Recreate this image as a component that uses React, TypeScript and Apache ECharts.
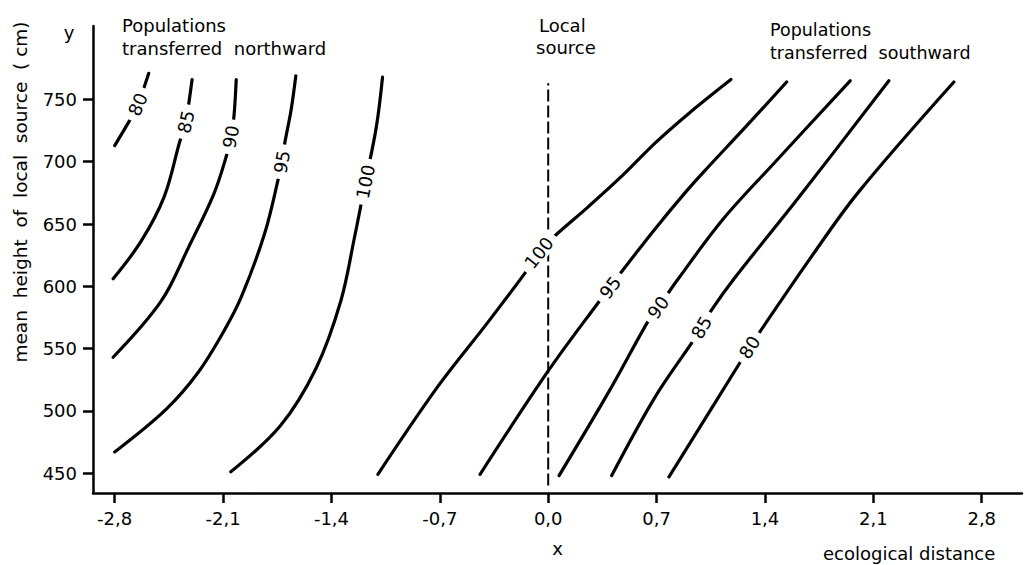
import React, { useEffect, useRef } from "react";
import * as echarts from "echarts";

// Axis ticks
const xTicks = [-2.8, -2.1, -1.4, -0.7, 0, 0.7, 1.4, 2.1, 2.8];
const yTicks = [450, 500, 550, 600, 650, 700, 750];

// Contour levels
const levelsNorth = [80, 85, 90, 95, 100];
const levelsSouth = [100, 95, 90, 85, 80];

// Populations transferred northward (x, y)
const north80 = [[-2.8, 713], [-2.69, 736], [-2.62, 756], [-2.58, 771]];
const north85 = [[-2.81, 606], [-2.63, 636], [-2.48, 672], [-2.38, 716], [-2.32, 748], [-2.3, 766]];
const north90 = [[-2.81, 543], [-2.5, 588], [-2.32, 632], [-2.16, 674], [-2.08, 704], [-2.03, 736], [-2.015, 766]];
const north95 = [[-2.8, 467], [-2.47, 501], [-2.26, 531], [-2.09, 565], [-1.98, 592], [-1.83, 643], [-1.74, 688], [-1.7, 716], [-1.66, 742], [-1.63, 769]];
const north100 = [[-2.05, 451], [-1.73, 488], [-1.5, 534], [-1.34, 588], [-1.25, 640], [-1.11, 728], [-1.07, 768]];
const northLabels = [[-2.65, 746], [-2.34, 732], [-2.05, 720], [-1.72, 700], [-1.18, 684]];

// Populations transferred southward (x, y)
const south100 = [[-1.1, 449], [-0.71, 520], [-0.39, 571], [-0.13, 614], [0.03, 639], [0.26, 664], [0.48, 689], [0.69, 715], [0.91, 739], [1.18, 766]];
const south95 = [[-0.44, 449], [0.0, 532], [0.33, 588], [0.47, 611], [0.69, 646], [0.89, 676], [1.02, 694], [1.26, 726], [1.54, 764]];
const south90 = [[0.07, 448], [0.39, 515], [0.65, 573], [0.84, 606], [1.13, 654], [1.46, 699], [1.95, 765]];
const south85 = [[0.41, 448], [0.69, 511], [0.94, 557], [1.05, 580], [1.2, 606], [1.61, 670], [2.2, 765]];
const south80 = [[0.78, 447], [1.24, 539], [1.37, 564], [1.69, 622], [2.0, 675], [2.62, 764]];
const southLabels = [[-0.06, 627], [0.4, 599], [0.71, 583], [0.99, 567], [1.3, 551]];

// Local source (x = 0)
const localSource = [[0, 440], [0, 763]];

const FONT = "'DejaVu Sans', sans-serif";

function fmt(v: number) {
  const s = Math.abs(v).toFixed(1).replace(".", ",");
  return v < -1e-9 ? "-" + s : s;
}

export default function App() {
  const ref = useRef<HTMLDivElement>(null);

  useEffect(() => {
    if (!ref.current) return;
    const chart = echarts.init(ref.current, null, { renderer: "svg" });

    const curves = [north80, north85, north90, north95, north100, south100, south95, south90, south85, south80];
    const labels = [...northLabels, ...southLabels];
    const levels = [...levelsNorth, ...levelsSouth];

    const merged = curves.map((pts, i) => [...pts, labels[i]].sort((a, b) => a[1] - b[1]));

    // label rows: [x, y, xPrev, yPrev, xNext, yNext, level]
    const labelRows = labels.map((lab, i) => {
      const d = merged[i];
      const k = d.indexOf(lab);
      const a = d[Math.max(0, k - 1)];
      const b = d[Math.min(d.length - 1, k + 1)];
      return [lab[0], lab[1], a[0], a[1], b[0], b[1], levels[i]];
    });

    const lineSeries: any[] = merged.map((data, i) => ({
      type: "line",
      name: "iso " + levels[i] + " #" + i,
      data,
      showSymbol: false,
      symbol: "none",
      smooth: 0.35,
      lineStyle: { color: "#000", width: 3.2, cap: "round" },
      z: 2,
      silent: true,
    }));

    const option: any = {
      animation: false,
      backgroundColor: "#fff",
      grid: { left: 93, right: 3, top: 26, bottom: 72, containLabel: false, outerBoundsMode: "none" },
      xAxis: {
        type: "value",
        min: -2.94,
        max: 3.06,
        name: "x",
        nameLocation: "middle",
        nameGap: 46,
        nameTextStyle: { color: "#000", fontSize: 18, fontFamily: FONT },
        axisLine: { onZero: false, lineStyle: { color: "#000", width: 2.5 } },
        axisTick: { show: true, customValues: xTicks, length: 10, lineStyle: { color: "#000", width: 2.5 } },
        axisLabel: { customValues: xTicks, formatter: (v: number) => fmt(v), color: "#000", fontSize: 18, fontFamily: FONT, margin: 16 },
        splitLine: { show: false },
      },
      yAxis: {
        type: "value",
        min: 434,
        max: 809,
        axisLine: { onZero: false, lineStyle: { color: "#000", width: 2.5 } },
        axisTick: { show: true, customValues: yTicks, length: 10, lineStyle: { color: "#000", width: 2.5 } },
        axisLabel: { customValues: yTicks, color: "#000", fontSize: 18, fontFamily: FONT, margin: 16 },
        splitLine: { show: false },
      },
      graphic: [
        { type: "text", x: 69, y: 32, style: { text: "y", fill: "#000", font: "18px " + FONT, textAlign: "center", textVerticalAlign: "middle" } },
        { type: "text", x: 20, y: 192, rotation: Math.PI / 2, style: { text: "mean  height  of  local  source  ( cm)", fill: "#000", font: "18.5px " + FONT, textAlign: "center", textVerticalAlign: "middle" } },
        { type: "text", x: 122, y: 25, style: { text: "Populations", fill: "#000", font: "18px " + FONT, textAlign: "left", textVerticalAlign: "middle" } },
        { type: "text", x: 122, y: 48, style: { text: "transferred  northward", fill: "#000", font: "18px " + FONT, textAlign: "left", textVerticalAlign: "middle" } },
        { type: "text", x: 539, y: 25, style: { text: "Local", fill: "#000", font: "18px " + FONT, textAlign: "left", textVerticalAlign: "middle" } },
        { type: "text", x: 536, y: 47, style: { text: "source", fill: "#000", font: "18px " + FONT, textAlign: "left", textVerticalAlign: "middle" } },
        { type: "text", x: 770, y: 30, style: { text: "Populations", fill: "#000", font: "17.5px " + FONT, textAlign: "left", textVerticalAlign: "middle" } },
        { type: "text", x: 770, y: 53, style: { text: "transferred  southward", fill: "#000", font: "17.5px " + FONT, textAlign: "left", textVerticalAlign: "middle" } },
        { type: "text", x: 823, y: 553, style: { text: "ecological distance", fill: "#000", font: "18px " + FONT, textAlign: "left", textVerticalAlign: "middle" } },
      ],
      series: [
        ...lineSeries,
        {
          type: "line",
          name: "local source",
          data: localSource,
          showSymbol: false,
          symbol: "none",
          lineStyle: { color: "#000", width: 2, type: [12, 4] },
          z: 1,
          silent: true,
        },
        {
          type: "custom",
          name: "contour labels",
          coordinateSystem: "cartesian2d",
          data: labelRows,
          encode: { x: 0, y: 1 },
          z: 10,
          silent: true,
          renderItem: (params: any, api: any) => {
            const p = api.coord([api.value(0), api.value(1)]);
            const a = api.coord([api.value(2), api.value(3)]);
            const b = api.coord([api.value(4), api.value(5)]);
            const rot = Math.atan2(a[1] - b[1], b[0] - a[0]);
            return {
              type: "text",
              x: p[0],
              y: p[1],
              rotation: rot,
              z2: 10,
              style: {
                text: String(api.value(6)),
                fill: "#000",
                font: "18px " + FONT,
                textAlign: "center",
                textVerticalAlign: "middle",
                align: "center",
                verticalAlign: "middle",
                backgroundColor: "#fff",
                padding: [0, 6],
              },
            };
          },
        },
      ],
    };

    chart.setOption(option);
    return () => chart.dispose();
  }, []);

  return <div ref={ref} style={{ position: "fixed", left: 0, top: 0, width: 1025, height: 565 }} />;
}
